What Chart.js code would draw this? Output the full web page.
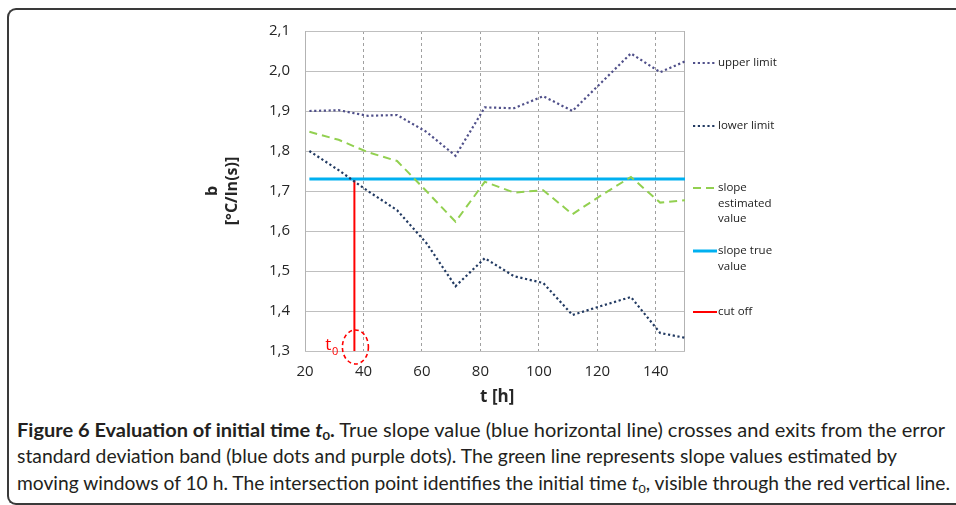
<!DOCTYPE html>
<html>
<head>
<meta charset="utf-8">
<script src="https://cdn.jsdelivr.net/npm/chart.js@4.4.0/dist/chart.umd.min.js"></script>
<style>
  body { margin: 0; background: #fff; width: 956px; height: 505px; overflow: hidden; position: relative; }
  #frame { position: absolute; left: 7px; top: 8px; width: 1000px; height: 493px; border: 2px solid #3a3a3a; border-right: none; border-radius: 9px 0 0 9px; }
  #chart { position: absolute; left: 0; top: 0; }
  .cap { position: absolute; left: 17px; white-space: nowrap; font-family: Lato, 'Open Sans', sans-serif; font-size: 18.5px; color: #231f20; transform-origin: 0 50%; line-height: 20px; }
  .cap sub { font-size: 0.65em; vertical-align: -0.25em; line-height: 0; }
</style>
</head>
<body>
<div id="frame"></div>
<canvas id="chart" width="956" height="410"></canvas>
<div class="cap" id="c1" style="top:420px"><b>Figure 6 Evaluation of initial time <i>t</i><sub>0</sub>.</b> True slope value (blue horizontal line) crosses and exits from the error</div>
<div class="cap" id="c2" style="top:446px">standard deviation band (blue dots and purple dots). The green line represents slope values estimated by</div>
<div class="cap" id="c3" style="top:473px">moving windows of 10 h. The intersection point identifies the initial time <i>t</i><sub>0</sub>, visible through the red vertical line.</div>
<script>
// time of each moving window [h]
const tHours = [21.5, 31.5, 41.5, 51.5, 61.5, 71.5, 81.5, 91.5, 101.5, 111.5, 121.5, 131.5, 141.5, 150]
const upperLimit = [1.900, 1.902, 1.888, 1.890, 1.848, 1.788, 1.909, 1.907, 1.937, 1.900, 1.972, 2.044, 1.997, 2.024]
const lowerLimit = [1.800, 1.752, 1.700, 1.652, 1.570, 1.462, 1.532, 1.487, 1.470, 1.390, 1.413, 1.435, 1.345, 1.333]
const slopeEstimated = [1.848, 1.828, 1.797, 1.775, 1.700, 1.623, 1.723, 1.696, 1.702, 1.642, 1.690, 1.735, 1.671, 1.677]

const trueT = [21.5, 150]
const slopeTrue = [1.73, 1.73]

const cutOffT = [36.9, 36.9]
const cutOffB = [1.3, 1.73]

const xTicks = { min: 20, max: 150, step: 20 }
const yTicks = { min: 1.3, max: 2.1, step: 0.1 }

const legendLines = [
  ['upper limit'],
  ['lower limit'],
  ['slope', 'estimated', 'value'],
  ['slope true', 'value'],
  ['cut off']
]

function toPoints(xs, ys) {
  return xs.map((x, i) => ({ x: x, y: ys[i] }))
}

function fmt(v) {
  return v.toFixed(1).replace('.', ',')
}

// frame of the plot area (left and right sides)
const frame = {
  id: 'frame',
  beforeDatasetsDraw(chart) {
    const { ctx, chartArea: a } = chart
    ctx.save()
    ctx.strokeStyle = '#b3b3b3'
    ctx.lineWidth = 1
    ctx.beginPath()
    ctx.moveTo(Math.round(a.left) + 0.5, a.top)
    ctx.lineTo(Math.round(a.left) + 0.5, a.bottom)
    ctx.moveTo(Math.round(a.right) - 0.5, a.top)
    ctx.lineTo(Math.round(a.right) - 0.5, a.bottom)
    ctx.stroke()
    ctx.restore()
  }
}

// legend on the right, one block per dataset
const sideLegend = {
  id: 'sideLegend',
  afterDraw(chart) {
    const { ctx } = chart
    const rows = [63, 126, 188, 251, 312]
    const x0 = 693, x1 = 717
    ctx.save()
    ctx.font = '11.5px "Open Sans"'
    ctx.textBaseline = 'middle'
    ctx.fillStyle = '#222'
    chart.data.datasets.forEach((ds, i) => {
      const y = rows[i]
      ctx.save()
      ctx.strokeStyle = ds.borderColor
      ctx.lineWidth = ds.borderWidth
      ctx.setLineDash(ds.borderDash || [])
      ctx.beginPath()
      ctx.moveTo(x0, y)
      ctx.lineTo(x1, y)
      ctx.stroke()
      ctx.restore()
      legendLines[i].forEach((txt, j) => {
        ctx.fillText(txt, x1 + 1, y + j * 15.3)
      })
    })
    ctx.restore()
  }
}

// dashed circle and t0 label at the cut off point
const cutMarker = {
  id: 'cutMarker',
  afterDatasetsDraw(chart) {
    const { ctx, scales } = chart
    const cx = scales.x.getPixelForValue(cutOffT[0])
    const cy = scales.y.getPixelForValue(cutOffB[0]) - 4
    ctx.save()
    ctx.strokeStyle = '#ff0000'
    ctx.lineWidth = 1.6
    ctx.setLineDash([4, 3])
    ctx.beginPath()
    ctx.ellipse(cx + 1, cy, 13, 17, 0, 0, Math.PI * 2)
    ctx.stroke()
    ctx.fillStyle = '#ff0000'
    ctx.textBaseline = 'middle'
    ctx.textAlign = 'right'
    ctx.font = '11px "Open Sans"'
    ctx.fillText('0', cx - 16, cy + 5)
    ctx.font = '17px "Open Sans"'
    ctx.fillText('t', cx - 23, cy - 2)
    ctx.restore()
  }
}

const data = {
  datasets: [
    {
      label: 'upper limit',
      data: toPoints(tHours, upperLimit),
      borderColor: '#50508a',
      borderWidth: 2.2,
      borderDash: [2.2, 2.6],
      pointRadius: 0,
      showLine: true,
      tension: 0
    },
    {
      label: 'lower limit',
      data: toPoints(tHours, lowerLimit),
      borderColor: '#223a62',
      borderWidth: 2.2,
      borderDash: [2.2, 2.6],
      pointRadius: 0,
      showLine: true,
      tension: 0
    },
    {
      label: 'slope estimated value',
      data: toPoints(tHours, slopeEstimated),
      borderColor: '#92d050',
      borderWidth: 2,
      borderDash: [8, 5],
      pointRadius: 0,
      showLine: true,
      tension: 0
    },
    {
      label: 'slope true value',
      data: toPoints(trueT, slopeTrue),
      borderColor: '#00b0f0',
      borderWidth: 3,
      pointRadius: 0,
      showLine: true
    },
    {
      label: 'cut off',
      data: toPoints(cutOffT, cutOffB),
      borderColor: '#ff0000',
      borderWidth: 2,
      pointRadius: 0,
      showLine: true
    }
  ]
}

const options = {
  responsive: false,
  animation: false,
  layout: { padding: { left: 195, top: 31, right: 271, bottom: 0 } },
  plugins: {
    legend: { display: false },
    tooltip: { enabled: false }
  },
  scales: {
    x: {
      type: 'linear',
      min: xTicks.min,
      max: xTicks.max,
      ticks: {
        stepSize: xTicks.step,
        includeBounds: false,
        padding: 12,
        color: '#262626',
        font: { family: 'Open Sans', size: 15 }
      },
      grid: {
        color: c => (c.tick && c.tick.value === xTicks.min) ? 'rgba(0,0,0,0)' : '#a0a0a0',
        lineWidth: 1,
        drawTicks: false,
        borderDash: [3, 3]
      },
      border: { display: false, dash: [3, 3] },
      title: {
        display: true,
        text: ' t [h]',
        color: '#262626',
        font: { family: 'Open Sans', size: 17, weight: 'bold' },
        padding: { top: 0, bottom: 3 }
      },
      afterFit: s => { s.height = 59 }
    },
    y: {
      min: yTicks.min,
      max: yTicks.max,
      ticks: {
        stepSize: yTicks.step,
        padding: 15,
        color: '#262626',
        font: { family: 'Open Sans', size: 15 },
        callback: v => fmt(v)
      },
      grid: { color: '#bfbfbf', lineWidth: 1, drawTicks: false },
      border: { display: false },
      title: {
        display: true,
        text: ['b', '[°C/ln(s)]'],
        color: '#262626',
        font: { family: 'Open Sans', size: 16, weight: 'bold', lineHeight: 1.25 },
        padding: { top: 7, bottom: 0 }
      },
      afterFit: s => { s.width = 110 }
    }
  }
}

new Chart(document.getElementById('chart'), {
  type: 'scatter',
  data: data,
  options: options,
  plugins: [frame, cutMarker, sideLegend]
})

// stretch caption lines to the widths in the figure
const capWidths = { c1: 928, c2: 880, c3: 933 }
Object.keys(capWidths).forEach(id => {
  const el = document.getElementById(id)
  const w = el.getBoundingClientRect().width
  el.style.transform = `scaleX(${capWidths[id] / w})`
})
</script>
</body>
</html>
